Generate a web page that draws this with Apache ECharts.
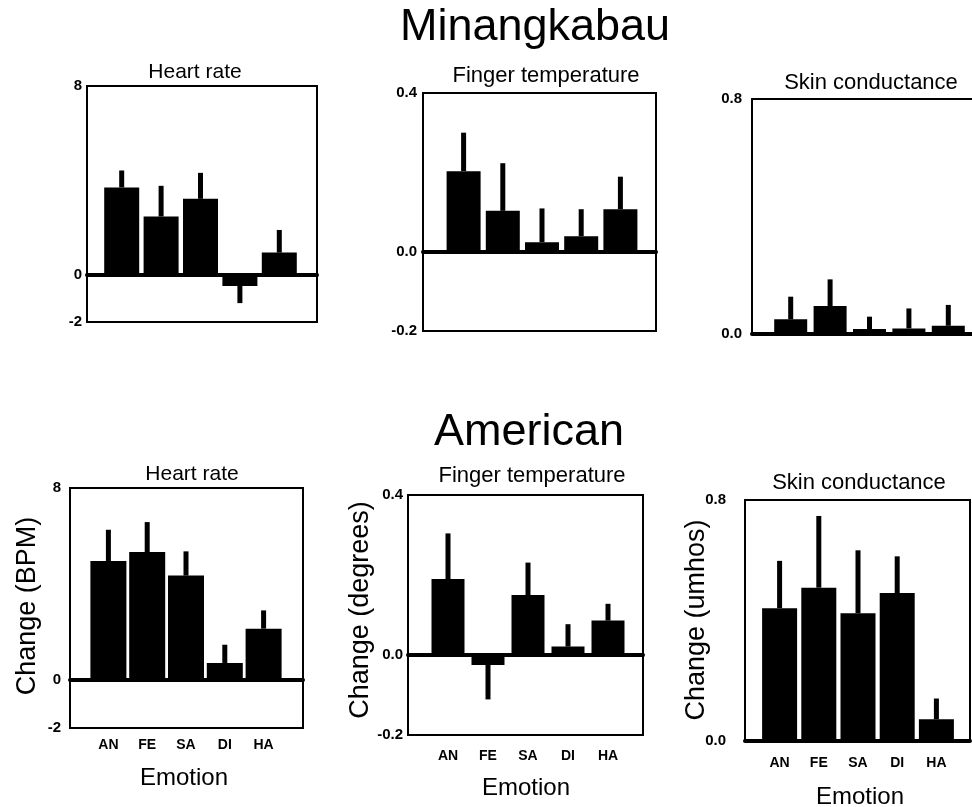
<!DOCTYPE html>
<html>
<head>
<meta charset="utf-8">
<script src="https://cdn.jsdelivr.net/npm/echarts@6/dist/echarts.min.js"></script>
<style>
html,body{margin:0;padding:0;background:#fff;}
#chart{width:972px;height:807px;}
</style>
</head>
<body>
<div id="chart"></div>
<script>
// ---- data ----
const emotions = ['AN', 'FE', 'SA', 'DI', 'HA'];

const minHeartRate      = [3.70, 2.47, 3.22, -0.47, 0.94];
const minHeartRateErr   = [0.72, 1.30, 1.10, 0.73, 0.96];
const minFingerTemp     = [0.203, 0.103, 0.024, 0.039, 0.107];
const minFingerTempErr  = [0.097, 0.120, 0.085, 0.068, 0.082];
const minSkinCond       = [0.050, 0.095, 0.017, 0.019, 0.028];
const minSkinCondErr    = [0.077, 0.091, 0.042, 0.068, 0.071];

const amHeartRate       = [4.96, 5.33, 4.35, 0.71, 2.14];
const amHeartRateErr    = [1.30, 1.25, 1.01, 0.76, 0.76];
const amFingerTemp      = [0.190, -0.025, 0.150, 0.021, 0.086];
const amFingerTempErr   = [0.114, 0.086, 0.081, 0.056, 0.042];
const amSkinCond        = [0.441, 0.509, 0.424, 0.491, 0.072];
const amSkinCondErr     = [0.157, 0.238, 0.209, 0.122, 0.069];

const heartRateTicks  = [-2, 0, 8];
const fingerTempTicks = [-0.2, 0.0, 0.4];
const skinCondTicks   = [0.0, 0.8];

const groupTitles = ['Minangkabau', 'American'];
const measureTitles = ['Heart rate', 'Finger temperature', 'Skin conductance'];
const yNames = ['Change (BPM)', 'Change (degrees)', 'Change (umhos)'];
const xName = 'Emotion';

// ---- layout ----
const FONT = '"Liberation Sans", Arial, Helvetica, sans-serif';
const panels = [
  {vals: minHeartRate,  errs: minHeartRateErr,  ticks: heartRateTicks,  step: 2,   dec: 0, box: [87, 86, 230, 236],  bar: [102, 197], bw: 35, lgap: 5,  showX: false, xm: 10},
  {vals: minFingerTemp, errs: minFingerTempErr, ticks: fingerTempTicks, step: 0.2, dec: 1, box: [423, 93, 233, 238], bar: [444, 196], bw: 34, lgap: 6,  showX: false, xm: 10},
  {vals: minSkinCond,   errs: minSkinCondErr,   ticks: skinCondTicks,   step: 0.8, dec: 1, box: [752, 99, 233, 235], bar: [771, 197], bw: 33, lgap: 10, showX: false, xm: 10, openRight: true},
  {vals: amHeartRate,   errs: amHeartRateErr,   ticks: heartRateTicks,  step: 2,   dec: 0, box: [70, 488, 233, 240], bar: [89, 194],  bw: 36, lgap: 9,  showX: true,  xm: 10},
  {vals: amFingerTemp,  errs: amFingerTempErr,  ticks: fingerTempTicks, step: 0.2, dec: 1, box: [408, 495, 235, 240],bar: [428, 200], bw: 33, lgap: 5,  showX: true,  xm: 14},
  {vals: amSkinCond,    errs: amSkinCondErr,    ticks: skinCondTicks,   step: 0.8, dec: 1, box: [745, 500, 225, 241],bar: [760, 196], bw: 35, lgap: 19, showX: true,  xm: 15}
];

const grid = [], xAxis = [], yAxis = [], series = [];
const hidden = {axisLabel: {show: false}, axisTick: {show: false}, splitLine: {show: false}};
panels.forEach((p) => {
  const bi = grid.length, ci = bi + 1;
  const min = p.ticks[0], max = p.ticks[p.ticks.length - 1];
  grid.push({left: p.box[0], top: p.box[1], width: p.box[2], height: p.box[3],
             show: !p.openRight, borderColor: '#000', borderWidth: 2, backgroundColor: 'transparent'});
  grid.push({left: p.bar[0], top: p.box[1], width: p.bar[1], height: p.box[3], show: false});
  // box axes (zero line across full box)
  xAxis.push(Object.assign({gridIndex: bi, type: 'value', min: 0, max: 1,
    axisLine: {show: true, onZero: true, lineStyle: {color: '#000', width: 4}}}, hidden));
  yAxis.push(Object.assign({gridIndex: bi, type: 'value', min: min, max: max, position: 'left',
    axisLine: {show: !!p.openRight, onZero: false, lineStyle: {color: '#000', width: 2}}}, hidden));
  const barX = xAxis.length, barY = yAxis.length;
  // bar axes
  xAxis.push({gridIndex: ci, type: 'category', data: emotions, position: 'bottom',
    axisLine: {show: false, onZero: false}, axisTick: {show: false}, splitLine: {show: false},
    axisLabel: {show: p.showX, margin: p.xm, fontSize: 14, fontWeight: 'bold', color: '#000', fontFamily: FONT}});
  yAxis.push({gridIndex: ci, type: 'value', min: min, max: max, interval: p.step,
    offset: p.bar[0] - p.box[0],
    axisLine: {show: false}, axisTick: {show: false}, splitLine: {show: false},
    axisLabel: {margin: p.lgap, fontSize: 15, fontWeight: 'bold', color: '#000', fontFamily: FONT,
      formatter: v => p.ticks.some(t => Math.abs(t - v) < 1e-9) ? Number(v).toFixed(p.dec) : ''}});
  if (p.openRight) {
    // top border of a box that runs past the right edge of the page
    xAxis.push(Object.assign({gridIndex: bi, type: 'value', min: 0, max: 1, position: 'top',
      axisLine: {show: true, onZero: false, lineStyle: {color: '#000', width: 2}}}, hidden));
  }
  series.push({type: 'bar', xAxisIndex: barX, yAxisIndex: barY, data: p.vals, barWidth: p.bw,
    itemStyle: {color: '#000'}, silent: true});
  series.push({type: 'custom', xAxisIndex: barX, yAxisIndex: barY, silent: true,
    data: p.vals.map((v, k) => [k, v, p.errs[k]]),
    renderItem: (params, api) => {
      const x = api.value(0), v = api.value(1), e = api.value(2);
      const end = v >= 0 ? v + e : v - e;
      const a = api.coord([x, v]), b = api.coord([x, end]);
      return {type: 'rect', shape: {x: a[0] - 2.5, y: Math.min(a[1], b[1]), width: 5, height: Math.abs(b[1] - a[1])},
              style: {fill: '#000'}};
    }});
});

const txt = (text, x, y, size, rot) => ({type: 'text', x: x, y: y, rotation: rot || 0, silent: true,
  style: {text: text, fill: '#000', font: size + 'px ' + FONT, textAlign: 'center', textVerticalAlign: 'middle'}});

const graphic = [
  txt(groupTitles[0], 535, 28, 45),
  txt(groupTitles[1], 529, 433, 45),
  txt(measureTitles[0], 195, 72, 21),
  txt(measureTitles[1], 546, 76, 22),
  txt(measureTitles[2], 871, 83, 22),
  txt(measureTitles[0], 192, 474, 21),
  txt(measureTitles[1], 532, 476, 22),
  txt(measureTitles[2], 859, 483, 22),
  txt(yNames[0], 28, 606, 27, Math.PI / 2),
  txt(yNames[1], 361, 610, 27, Math.PI / 2),
  txt(yNames[2], 697, 620, 27, Math.PI / 2),
  txt(xName, 184, 778, 24),
  txt(xName, 526, 788, 24),
  txt(xName, 860, 797, 24)
];

const chart = echarts.init(document.getElementById('chart'), null, {renderer: 'canvas'});
chart.setOption({animation: false, backgroundColor: '#fff', grid, xAxis, yAxis, series, graphic});
</script>
</body>
</html>
